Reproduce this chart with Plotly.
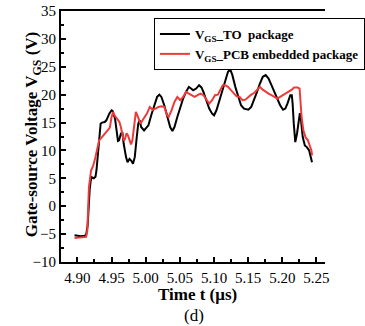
import plotly.graph_objects as go

t_to = [4.8958, 4.9000, 4.9050, 4.9100, 4.9127, 4.9150, 4.9165, 4.9180, 4.9195, 4.9212,
        4.9240, 4.9265, 4.9280, 4.9296, 4.9318, 4.9340, 4.9360, 4.9400, 4.9424, 4.9450,
        4.9467, 4.9500, 4.9515, 4.9551, 4.9581, 4.9594, 4.9610, 4.9636, 4.9658, 4.9678,
        4.9712, 4.9734, 4.9763, 4.9793, 4.9814, 4.9840, 4.9869, 4.9891, 4.9912, 4.9933,
        4.9976, 5.0040, 5.0081, 5.0123, 5.0167, 5.0200, 5.0230, 5.0272, 5.0314, 5.0358,
        5.0391, 5.0421, 5.0463, 5.0505, 5.0548, 5.0590, 5.0632, 5.0654, 5.0696, 5.0739,
        5.0781, 5.0816, 5.0845, 5.0887, 5.0930, 5.0972, 5.1001, 5.1036, 5.1078, 5.1121,
        5.1163, 5.1205, 5.1239, 5.1269, 5.1312, 5.1354, 5.1396, 5.1439, 5.1503, 5.1545,
        5.1587, 5.1630, 5.1672, 5.1714, 5.1757, 5.1799, 5.1841, 5.1884, 5.1926, 5.1968,
        5.2011, 5.2044, 5.2075, 5.2117, 5.2139, 5.2151, 5.2168, 5.2190, 5.2215, 5.2244,
        5.2257, 5.2274, 5.2299, 5.2330, 5.2359, 5.2393, 5.2414, 5.2435]
v_to = [-5.2, -5.3, -5.4, -5.3, -5.2, -3.5, 0.5, 3.0, 4.6, 5.2,
        5.0, 5.3, 6.5, 8.8, 11.2, 14.8, 15.0, 15.1, 15.4, 16.2,
        16.6, 17.2, 17.1, 15.7, 13.0, 11.7, 11.8, 13.0, 13.3, 11.2,
        8.8, 7.9, 8.5, 8.1, 7.6, 8.8, 12.4, 14.8, 15.4, 14.2,
        13.6, 14.5, 16.3, 18.1, 19.6, 20.0, 19.6, 18.1, 16.0, 14.2,
        13.5, 14.2, 16.0, 17.8, 19.3, 20.5, 21.4, 21.2, 20.8, 21.1,
        21.7, 21.3, 20.5, 19.0, 17.5, 16.6, 16.3, 17.2, 19.0, 20.8,
        22.3, 24.1, 24.5, 23.5, 21.4, 19.6, 18.1, 17.5, 17.3, 17.8,
        19.0, 20.5, 22.0, 23.2, 23.5, 22.9, 21.7, 20.5, 19.3, 18.1,
        17.3, 17.5, 18.4, 19.9, 19.9, 18.4, 14.8, 11.5, 13.0, 16.0,
        16.7, 15.4, 12.4, 10.9, 10.6, 10.0, 9.1, 7.9]

t_pcb = [4.8958, 4.9050, 4.9127, 4.9145, 4.9157, 4.9169, 4.9200, 4.9233, 4.9264, 4.9296,
         4.9318, 4.9360, 4.9403, 4.9445, 4.9475, 4.9500, 4.9522, 4.9543, 4.9573, 4.9615,
         4.9636, 4.9658, 4.9678, 4.9695, 4.9720, 4.9740, 4.9763, 4.9785, 4.9805, 4.9827,
         4.9856, 4.9878, 4.9899, 4.9924, 4.9954, 4.9988, 5.0018, 5.0060, 5.0103, 5.0145,
         5.0187, 5.0230, 5.0272, 5.0314, 5.0336, 5.0378, 5.0421, 5.0463, 5.0505, 5.0548,
         5.0590, 5.0632, 5.0675, 5.0717, 5.0759, 5.0802, 5.0845, 5.0887, 5.0930, 5.0972,
         5.1014, 5.1057, 5.1099, 5.1128, 5.1163, 5.1205, 5.1248, 5.1290, 5.1332, 5.1375,
         5.1417, 5.1459, 5.1503, 5.1545, 5.1587, 5.1630, 5.1672, 5.1714, 5.1757, 5.1799,
         5.1841, 5.1884, 5.1926, 5.1968, 5.2011, 5.2053, 5.2096, 5.2139, 5.2172, 5.2223,
         5.2253, 5.2266, 5.2282, 5.2308, 5.2342, 5.2372, 5.2401, 5.2426, 5.2435]
v_pcb = [-5.7, -5.6, -5.5, -4.4, -0.2, 3.4, 6.4, 7.3, 8.8, 10.6,
         11.8, 12.4, 13.0, 13.6, 14.1, 16.0, 16.9, 16.3, 15.7, 15.1,
         14.2, 13.0, 11.8, 12.0, 13.1, 12.7, 11.8, 11.1, 11.8, 14.2,
         16.9, 16.3, 15.4, 14.8, 15.4, 16.1, 16.6, 17.8, 17.3, 17.5,
         17.8, 17.9, 17.8, 16.3, 16.0, 17.2, 18.7, 19.6, 19.0, 19.6,
         20.5, 20.2, 19.9, 19.6, 19.9, 20.2, 19.9, 19.1, 18.4, 19.0,
         19.9, 20.0, 21.1, 21.7, 21.7, 21.4, 20.8, 20.2, 19.7, 19.6,
         19.0, 19.1, 19.6, 20.0, 20.3, 20.8, 21.4, 20.9, 20.5, 20.2,
         19.9, 19.6, 19.3, 19.6, 19.9, 20.2, 20.5, 20.9, 21.3, 21.3,
         21.1, 19.0, 16.0, 13.6, 12.3, 11.9, 10.9, 10.0, 9.1]

x_ticks = [4.90, 4.95, 5.00, 5.05, 5.10, 5.15, 5.20, 5.25]
x_labels = ["4.90", "4.95", "5.00", "5.05", "5.10", "5.15", "5.20", "5.25"]
y_ticks = [-10, -5, 0, 5, 10, 15, 20, 25, 30, 35]

FONT = "Liberation Serif, Times New Roman, serif"

fig = go.Figure()
fig.add_trace(go.Scatter(x=t_to, y=v_to, mode="lines",
                         name="<b>V<sub>GS</sub>_TO  package</b>",
                         line=dict(color="black", width=2)))
fig.add_trace(go.Scatter(x=t_pcb, y=v_pcb, mode="lines",
                         name="<b>V<sub>GS</sub>_PCB embedded package</b>",
                         line=dict(color="#f03a3a", width=2)))

fig.update_layout(
    width=365, height=326,
    margin=dict(l=61, r=0, t=11, b=64),
    paper_bgcolor="white", plot_bgcolor="white",
    font=dict(family=FONT, color="black", size=15),
    showlegend=True,
    legend=dict(x=0.352, y=0.972, xanchor="left", yanchor="top",
                bordercolor="black", borderwidth=1, bgcolor="white",
                font=dict(family=FONT, size=13, color="black"),
                tracegroupgap=0, itemwidth=30),
    xaxis=dict(range=[4.876, 5.2625], tickvals=x_ticks, ticktext=x_labels,
               showline=True, linecolor="black", linewidth=2, mirror=True,
               ticks="inside", ticklen=5, tickwidth=1.5, tickcolor="black",
               showgrid=False, zeroline=False, ticklabelstandoff=1,
               minor=dict(ticks="inside", ticklen=3, tickwidth=1.5, dtick=0.025,
                          tick0=4.875, tickcolor="black", showgrid=False),
               tickfont=dict(family=FONT, size=15)),
    yaxis=dict(range=[-10, 35], tickvals=y_ticks,
               showline=True, linecolor="black", linewidth=2, mirror=False,
               ticks="inside", ticklen=5, tickwidth=1.5, tickcolor="black",
               showgrid=False, zeroline=False,
               minor=dict(ticks="inside", ticklen=3, tickwidth=1.5, dtick=2.5,
                          tick0=-10, tickcolor="black", showgrid=False),
               tickfont=dict(family=FONT, size=15)),
    annotations=[
        dict(text="<b>Time t (\u03bcs)</b>", xref="paper", yref="paper",
             x=0.517, y=-0.13, xanchor="center", yanchor="middle",
             showarrow=False, font=dict(family=FONT, size=17)),
        dict(text="(d)", xref="paper", yref="paper",
             x=0.505, y=-0.215, xanchor="center", yanchor="middle",
             showarrow=False, font=dict(family=FONT, size=17)),
        dict(text="<b>Gate-source Voltage V<sub>GS</sub> (V)</b>", xref="paper", yref="paper",
             x=-0.105, y=0.51, xanchor="center", yanchor="middle", textangle=-90,
             showarrow=False, font=dict(family=FONT, size=17)),
    ],
)

fig.write_html("out.html", config={"displayModeBar": False},
               post_script="document.body.style.margin='0';document.body.style.overflow='hidden';")
